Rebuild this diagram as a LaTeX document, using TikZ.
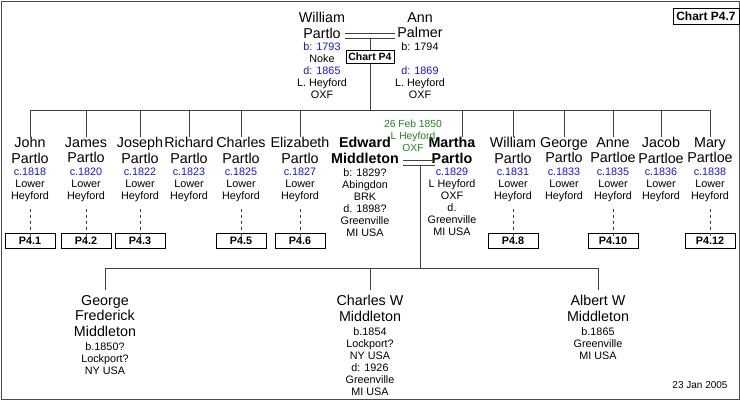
\documentclass[tikz,border=0pt]{standalone}
\usepackage{fontspec}
\setmainfont{Liberation Sans}
\definecolor{bl}{RGB}{20,20,235}
\definecolor{gr}{RGB}{30,130,30}
\begin{document}
\begin{tikzpicture}[x=1pt,y=-1pt,
  nm/.style={align=center,font=\fontsize{14.3}{15.5}\selectfont,inner sep=0pt,anchor=north},
  bnm/.style={nm,font=\fontsize{14.3}{15.5}\selectfont\bfseries},
  dt/.style={align=center,font=\fontsize{10.8}{12}\selectfont,inner sep=0pt,anchor=north},
  ref/.style={draw,line width=0.6pt,minimum width=50pt,minimum height=15pt,inner sep=0pt,font=\fontsize{10.8}{11}\selectfont\bfseries},
  ln/.style={line width=0.6pt,draw=black!75}]
\useasboundingbox (0,0) rectangle (740,400);
\draw[line width=0.8pt,draw=black!70] (1,1) rectangle (739,399);
\node[draw,line width=0.6pt,font=\fontsize{12}{13}\selectfont\bfseries,inner sep=3.5pt] (chart) at (706,16) {Chart P4.7};
% parents
\node[nm] (wil) at (322,12) {William\\Partlo};
\node[dt] (wild) at (322,42) {\color{bl}b: 1793\\Noke\\\color{bl}d: 1865\\L. Heyford\\OXF};
\node[nm] (ann) at (420,12) {Ann\\Palmer};
\node[dt] (annd) at (420,42) {b: 1794\\\\\color{bl}d: 1869\\L. Heyford\\OXF};
\draw[ln] (345,33) -- (395,33) (345,38) -- (395,38);
\node[draw,line width=0.6pt,font=\fontsize{10.5}{11}\selectfont\bfseries,inner sep=2.5pt] (cp4) at (370,57) {Chart P4};
\coordinate (pm) at (370,38);
\draw[ln] (pm) -- (cp4.north);
\coordinate (bus) at (370,110);
\draw[ln] (cp4.south) -- (bus);
\coordinate (busl) at (30,110); \coordinate (busr) at (710,110);
\draw[ln] (busl) -- (busr);
% children
\foreach \x/\id/\a/\b/\y in {30/c1/John/Partlo/1818, 86/c2/James/Partlo/1820, 140/c3/Joseph/Partlo/1822, 189/c4/Richard/Partlo/1823, 241/c5/Charles/Partlo/1825, 300/c6/Elizabeth/Partlo/1827, 513/c8/William/Partlo/1831, 564/c9/George/Partlo/1833, 613/c10/Anne/Partloe/1835, 661/c11/Jacob/Partloe/1836, 710/c12/Mary/Partloe/1838}{
  \coordinate (\id t) at (\x,110);
  \node[nm] (\id) at (\x,137) {\a\\\b};
  \draw[ln] (\id t) -- (\id.north);
  \node[dt] (\id d) at (\x,168) {\color{bl}c.\y\\Lower\\Heyford};
}
\foreach \id/\r in {c1/P4.1, c2/P4.2, c3/P4.3, c5/P4.5, c6/P4.6, c8/P4.8, c10/P4.10, c12/P4.12}{
  \node[ref] (\id r) at (\id d.south |- 0,241) {\r};
  \draw[ln,dashed] (\id d.south) ++(0,7) coordinate (\id s) -- ([yshift=-5pt]\id r.north);
}
% Edward and Martha
\node[bnm] (edw) at (365,137) {Edward\\Middleton};
\node[dt] (edwd) at (365,168) {b: 1829?\\Abingdon\\BRK\\d. 1898?\\Greenville\\MI USA};
\node[bnm] (mar) at (452,137) {Martha\\Partlo};
\node[dt] (mard) at (452,168) {\color{bl}c.1829\\L Heyford\\OXF\\d.\\Greenville\\MI USA};
\coordinate (c7t) at (462,110);
\draw[ln] (c7t) -- (mar.north -| c7t);
\node[dt,text=gr,font=\fontsize{10.3}{12}\selectfont] (wed) at (413,120) {26 Feb 1850\\L Heyford\\OXF};
\draw[ln] (403,160) -- (435,160) (403,165) -- (435,165);
\coordinate (m2) at (420,165);
\coordinate (gbus) at (420,268);
\draw[ln] (m2) -- (gbus);
\draw[ln] (105,268) -- (598,268);
% grandchildren
\node[nm] (g1) at (105,295) {George\\Frederick\\Middleton};
\node[dt] (g1d) at (105,342) {b.1850?\\Lockport?\\NY USA};
\node[nm] (g2) at (370,295) {Charles W\\Middleton};
\node[dt] (g2d) at (370,327) {b.1854\\Lockport?\\NY USA\\d: 1926\\Greenville\\MI USA};
\node[nm] (g3) at (598,295) {Albert W\\Middleton};
\node[dt] (g3d) at (598,327) {b.1865\\Greenville\\MI USA};
\foreach \g/\x in {g1/105,g2/370,g3/598}{\draw[ln] (\x,268) -- (\x,290);}
\node[font=\fontsize{10}{11}\selectfont] (date) at (700,385) {23 Jan 2005};
\end{tikzpicture}
\end{document}
